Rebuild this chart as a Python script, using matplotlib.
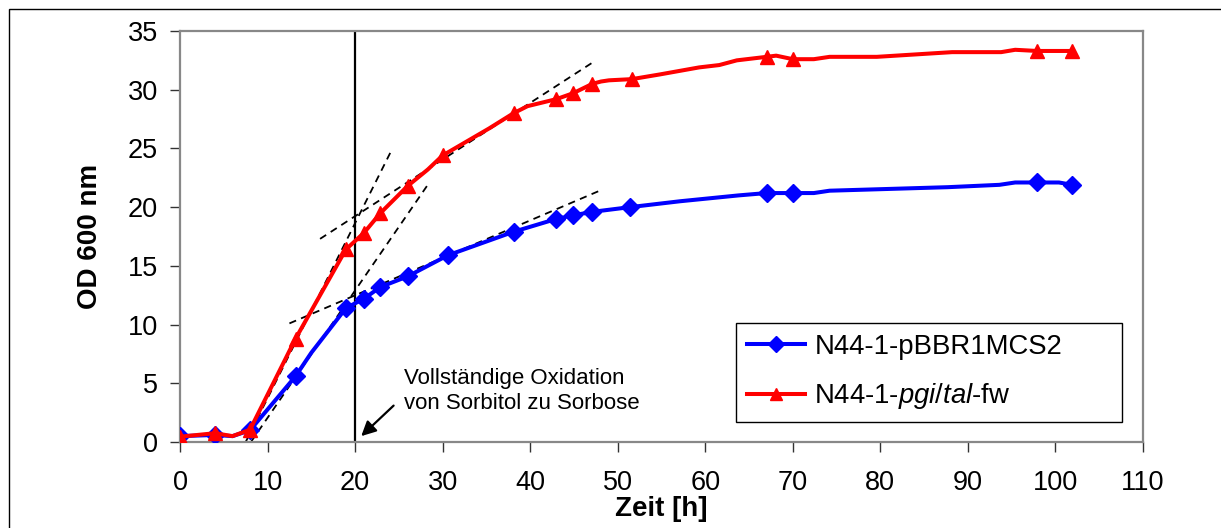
import matplotlib
matplotlib.use('Agg')
import matplotlib.pyplot as plt
from matplotlib.patches import Rectangle

plt.rcParams['font.family'] = ['Liberation Sans', 'DejaVu Sans']
plt.rcParams['mathtext.fontset'] = 'custom'
plt.rcParams['mathtext.it'] = 'Liberation Sans:italic'
plt.rcParams['mathtext.rm'] = 'Liberation Sans'

# marker points (measured time / OD600)
t_blue = [0, 4, 8, 13.2, 18.95, 21, 22.9, 26, 30.6, 38.1, 43, 44.9, 47.1, 51.4, 67, 70, 97.9, 101.9]
od_blue = [0.5, 0.6, 1.0, 5.6, 11.4, 12.2, 13.2, 14.1, 15.9, 17.9, 19.0, 19.3, 19.6, 20.0, 21.2, 21.2, 22.1, 21.9]

t_red = [0, 4, 8, 13.2, 18.95, 21, 22.9, 26, 30, 38.1, 43, 44.9, 47.1, 51.6, 67, 70, 97.9, 101.9]
od_red = [0.45, 0.75, 1.05, 8.8, 16.4, 17.8, 19.5, 21.8, 24.4, 28.0, 29.2, 29.7, 30.5, 30.9, 32.8, 32.6, 33.3, 33.3]

# the drawn curves (incl. kinks between markers)
line_t_blue = [0, 4, 6, 8, 13.2, 15, 18.95, 21, 22.9, 26, 30.6, 38.1, 43, 44.9, 47.1, 51.4,
               57.1, 63.8, 67, 70, 72.4, 74.2, 87.7, 93.6, 95.4, 97.9, 100.4, 101.9]
line_od_blue = [0.5, 0.6, 0.5, 1.0, 5.6, 7.6, 11.4, 12.2, 13.2, 14.1, 15.9, 17.9, 19.0, 19.3, 19.6, 20.0,
                20.5, 21.0, 21.2, 21.2, 21.2, 21.4, 21.7, 21.9, 22.1, 22.1, 22.1, 21.9]

line_t_red = [0, 4, 6, 8, 13.2, 18.95, 21, 22.9, 26, 28.3, 30, 35.3, 38.1, 39.7, 43, 44.9, 47.1, 48.1,
              49, 51.6, 54.8, 59.3, 61.6, 63.6, 67, 68.1, 70, 72.4, 74.2, 79.6, 88.2, 93.8, 95.4, 97.9, 101.9]
line_od_red = [0.45, 0.75, 0.5, 1.05, 8.8, 16.4, 17.8, 19.5, 21.8, 23.2, 24.4, 26.7, 28.0, 28.6, 29.2, 29.7, 30.5, 30.7,
               30.8, 30.9, 31.3, 31.9, 32.1, 32.5, 32.8, 32.9, 32.6, 32.6, 32.8, 32.8, 33.2, 33.2, 33.4, 33.3, 33.3]

# dashed tangents
tangents = [
    ([7.5, 24.2], [0.0, 24.9]),    # red, exponential phase
    ([8.1, 28.3], [0.0, 21.9]),    # blue, exponential phase
    ([16.0, 47.3], [17.3, 32.4]),  # red, second phase
    ([12.5, 48.25], [10.1, 21.5]), # blue, second phase
]

label_blue = 'N44-1-pBBR1MCS2'
label_red = r'N44-1-$\it{pgi/tal}$-fw'
note = 'Vollständige Oxidation\nvon Sorbitol zu Sorbose'

W, H = 1221, 528
fig = plt.figure(figsize=(W / 100, H / 100), dpi=100)
ax = fig.add_axes([180 / W, 1 - 442 / H, 963 / W, 411 / H])

# outer frame of the chart object
fig.patches.append(Rectangle((9 / W, -0.2), 2, 1 - 9 / H + 0.2, transform=fig.transFigure,
                             fill=False, edgecolor='black', lw=1.0))

for xs, ys in tangents:
    ax.plot(xs, ys, color='black', lw=1.3, dashes=(4, 3), zorder=2)

ax.axvline(20, color='black', lw=1.6, zorder=2)

ax.plot(line_t_blue, line_od_blue, color='#0000FF', lw=2.9, zorder=3)
ax.plot(t_blue, od_blue, ls='none', marker='D', ms=9, color='#0000FF', zorder=4)
ax.plot(line_t_red, line_od_red, color='#FF0000', lw=2.9, zorder=5)
ax.plot(t_red, od_red, ls='none', marker='^', ms=10.5, color='#FF0000', zorder=6)

# arrow and note
ax.annotate('', xy=(20.7, 0.5), xytext=(24.4, 3.1),
            arrowprops=dict(arrowstyle='-|>', color='black', lw=1.6, mutation_scale=22,
                            shrinkA=0, shrinkB=0))
ax.text(25.6, 4.35, note, fontsize=16, va='center', ha='left', linespacing=1.2)

ax.set_xlim(0, 110)
ax.set_ylim(0, 35)
ax.set_xticks(range(0, 111, 10))
ax.set_yticks(range(0, 36, 5))
ax.tick_params(direction='out', length=7, width=1, color='#333333', labelsize=19.5)
ax.tick_params(axis='x', pad=13)
ax.tick_params(axis='y', pad=9)
for s in ax.spines.values():
    s.set_color('#888888')
    s.set_linewidth(1.6)

ax.set_xlabel('Zeit [h]', fontsize=20, fontweight='bold', labelpad=0)
ax.set_ylabel('OD 600 nm', fontsize=20, fontweight='bold', labelpad=18)

# legend box is wider than its content, as in the original
h1, = ax.plot([], [], color='#0000FF', lw=2.9, marker='D', ms=8)
h2, = ax.plot([], [], color='#FF0000', lw=2.9, marker='^', ms=9)
leg = ax.legend([h1, h2], [label_blue, label_red], loc='upper left', mode='expand',
                bbox_to_anchor=(556 / 963, 0, 386 / 963, 0.2895), borderaxespad=0, fontsize=19.8,
                fancybox=False, edgecolor='black', framealpha=1, handlelength=2.1,
                handletextpad=0.35, labelspacing=0.78, borderpad=0.4)
leg.get_frame().set_linewidth(1.0)

fig.savefig('out.png', dpi=100)
